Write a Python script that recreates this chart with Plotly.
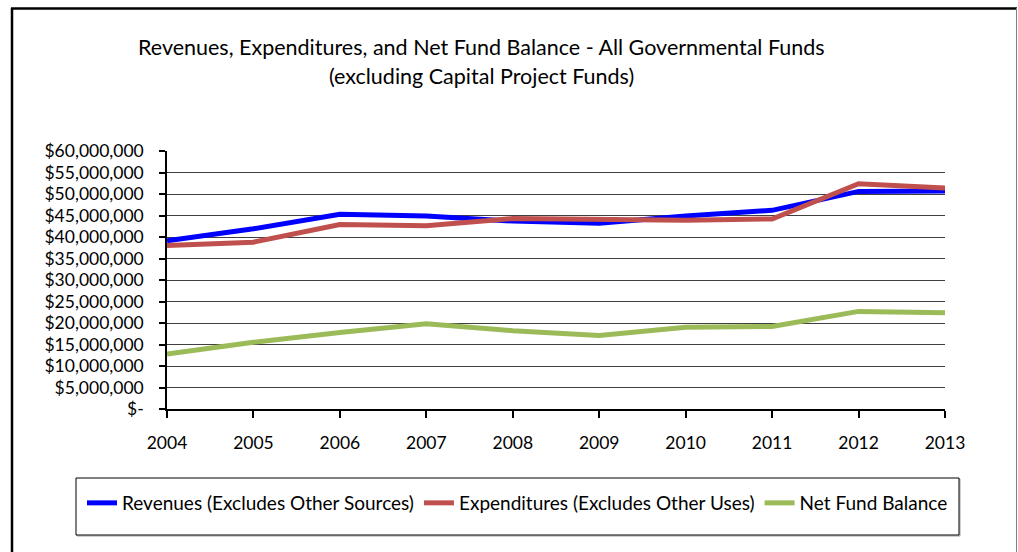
import plotly.graph_objects as go

years = [2004, 2005, 2006, 2007, 2008, 2009, 2010, 2011, 2012, 2013]
revenues = [39.1e6, 41.9e6, 45.3e6, 44.9e6, 43.7e6, 43.2e6, 44.9e6, 46.2e6, 50.6e6, 50.7e6]
expenditures = [38.0e6, 38.8e6, 42.9e6, 42.6e6, 44.3e6, 44.2e6, 43.9e6, 44.2e6, 52.4e6, 51.4e6]
net_balance = [12.8e6, 15.5e6, 17.8e6, 19.8e6, 18.2e6, 17.1e6, 19.0e6, 19.2e6, 22.7e6, 22.4e6]

series_names = [
    "Revenues (Excludes Other Sources)",
    "Expenditures (Excludes Other Uses)",
    "Net Fund Balance",
]
series_colors = ["#0000FF", "#C0504D", "#9BBB59"]

y_ticks = list(range(0, 60_000_001, 5_000_000))
y_labels = ["$-"] + ["${:,}".format(v) for v in y_ticks[1:]]

FONT = "Lato"
TICK_SIZE = 17.5
fig = go.Figure()
for name, vals, col in zip(series_names, [revenues, expenditures, net_balance], series_colors):
    fig.add_trace(go.Scatter(x=years, y=vals, mode="lines", name=name,
                             line=dict(color=col, width=5)))

# plot area spans pixels 167..945 horizontally, 151..409 vertically
W, H = 1018, 552
L, R, T, B = 167, 945, 151, 409


def px(x):
    return (x - L) / (R - L)


def py(y):
    return (B - y) / (B - T)


fig.update_layout(
    width=W, height=H,
    margin=dict(l=L, r=W - R, t=T, b=H - B, autoexpand=False),
    paper_bgcolor="white", plot_bgcolor="white",
    font=dict(family=FONT, size=TICK_SIZE, color="black"),
    showlegend=True,
    legend=dict(orientation="h", x=px(82), y=py(503), xanchor="left", yanchor="middle",
                font=dict(family=FONT, size=19, color="black"),
                bgcolor="rgba(0,0,0,0)", borderwidth=0, itemwidth=30, tracegroupgap=0),
    xaxis=dict(range=[2004, 2013], tickvals=years, ticktext=[str(y) for y in years],
               showgrid=False, zeroline=False, showline=True, linecolor="black", linewidth=1.5,
               ticks="outside", ticklen=7, tickwidth=1.5, tickcolor="black",
               ticklabelstandoff=10, tickfont=dict(family=FONT, size=TICK_SIZE)),
    yaxis=dict(range=[0, 60_000_000], tickvals=y_ticks, ticktext=y_labels,
               showgrid=True, gridcolor="#404040", gridwidth=1.2,
               zeroline=False, showline=True, linecolor="black", linewidth=1.5,
               ticks="outside", ticklen=6, tickwidth=1.5, tickcolor="black",
               ticklabelstandoff=12, tickfont=dict(family=FONT, size=TICK_SIZE)),
    xaxis2=dict(range=[2004, 2013], overlaying="x", anchor="y", side="bottom",
                tickvals=years, showticklabels=False, showgrid=False, zeroline=False,
                showline=False, ticks="inside", ticklen=5, tickwidth=1.5, tickcolor="black"),
    yaxis2=dict(range=[0, 60_000_000], overlaying="y", anchor="x", side="left",
                tickvals=y_ticks, showticklabels=False, showgrid=False, zeroline=False,
                showline=False, ticks="inside", ticklen=6, tickwidth=1.5, tickcolor="black"),
)

# chart title, two centred lines
fig.add_annotation(text="Revenues, Expenditures, and Net Fund Balance - All Governmental Funds",
                   xref="paper", yref="paper", x=px(481), y=py(47), showarrow=False,
                   xanchor="center", yanchor="middle", font=dict(family=FONT, size=21.5))
fig.add_annotation(text="(excluding Capital Project Funds)",
                   xref="paper", yref="paper", x=px(481), y=py(76), showarrow=False,
                   xanchor="center", yanchor="middle", font=dict(family=FONT, size=21.5))

# chart frame and legend box
fig.add_shape(type="line", xref="paper", yref="paper", x0=px(12), x1=px(12), y0=py(8), y1=py(560),
              line=dict(color="black", width=2.5), layer="above")
fig.add_shape(type="line", xref="paper", yref="paper", x0=px(11), x1=px(1017), y0=py(8.5), y1=py(8.5),
              line=dict(color="black", width=2.5), layer="above")
fig.add_shape(type="line", xref="paper", yref="paper", x0=px(1016.5), x1=px(1016.5), y0=py(8), y1=py(560),
              line=dict(color="#808080", width=1), layer="above")
fig.add_shape(type="rect", xref="paper", yref="paper", x0=px(77), x1=px(960), y0=py(479), y1=py(536),
              line=dict(color="#a0a0a0", width=1), layer="below")
fig.add_shape(type="rect", xref="paper", yref="paper", x0=px(76), x1=px(959), y0=py(478), y1=py(535),
              line=dict(color="black", width=1), fillcolor="white", layer="below")

fig.write_html("out.html")
